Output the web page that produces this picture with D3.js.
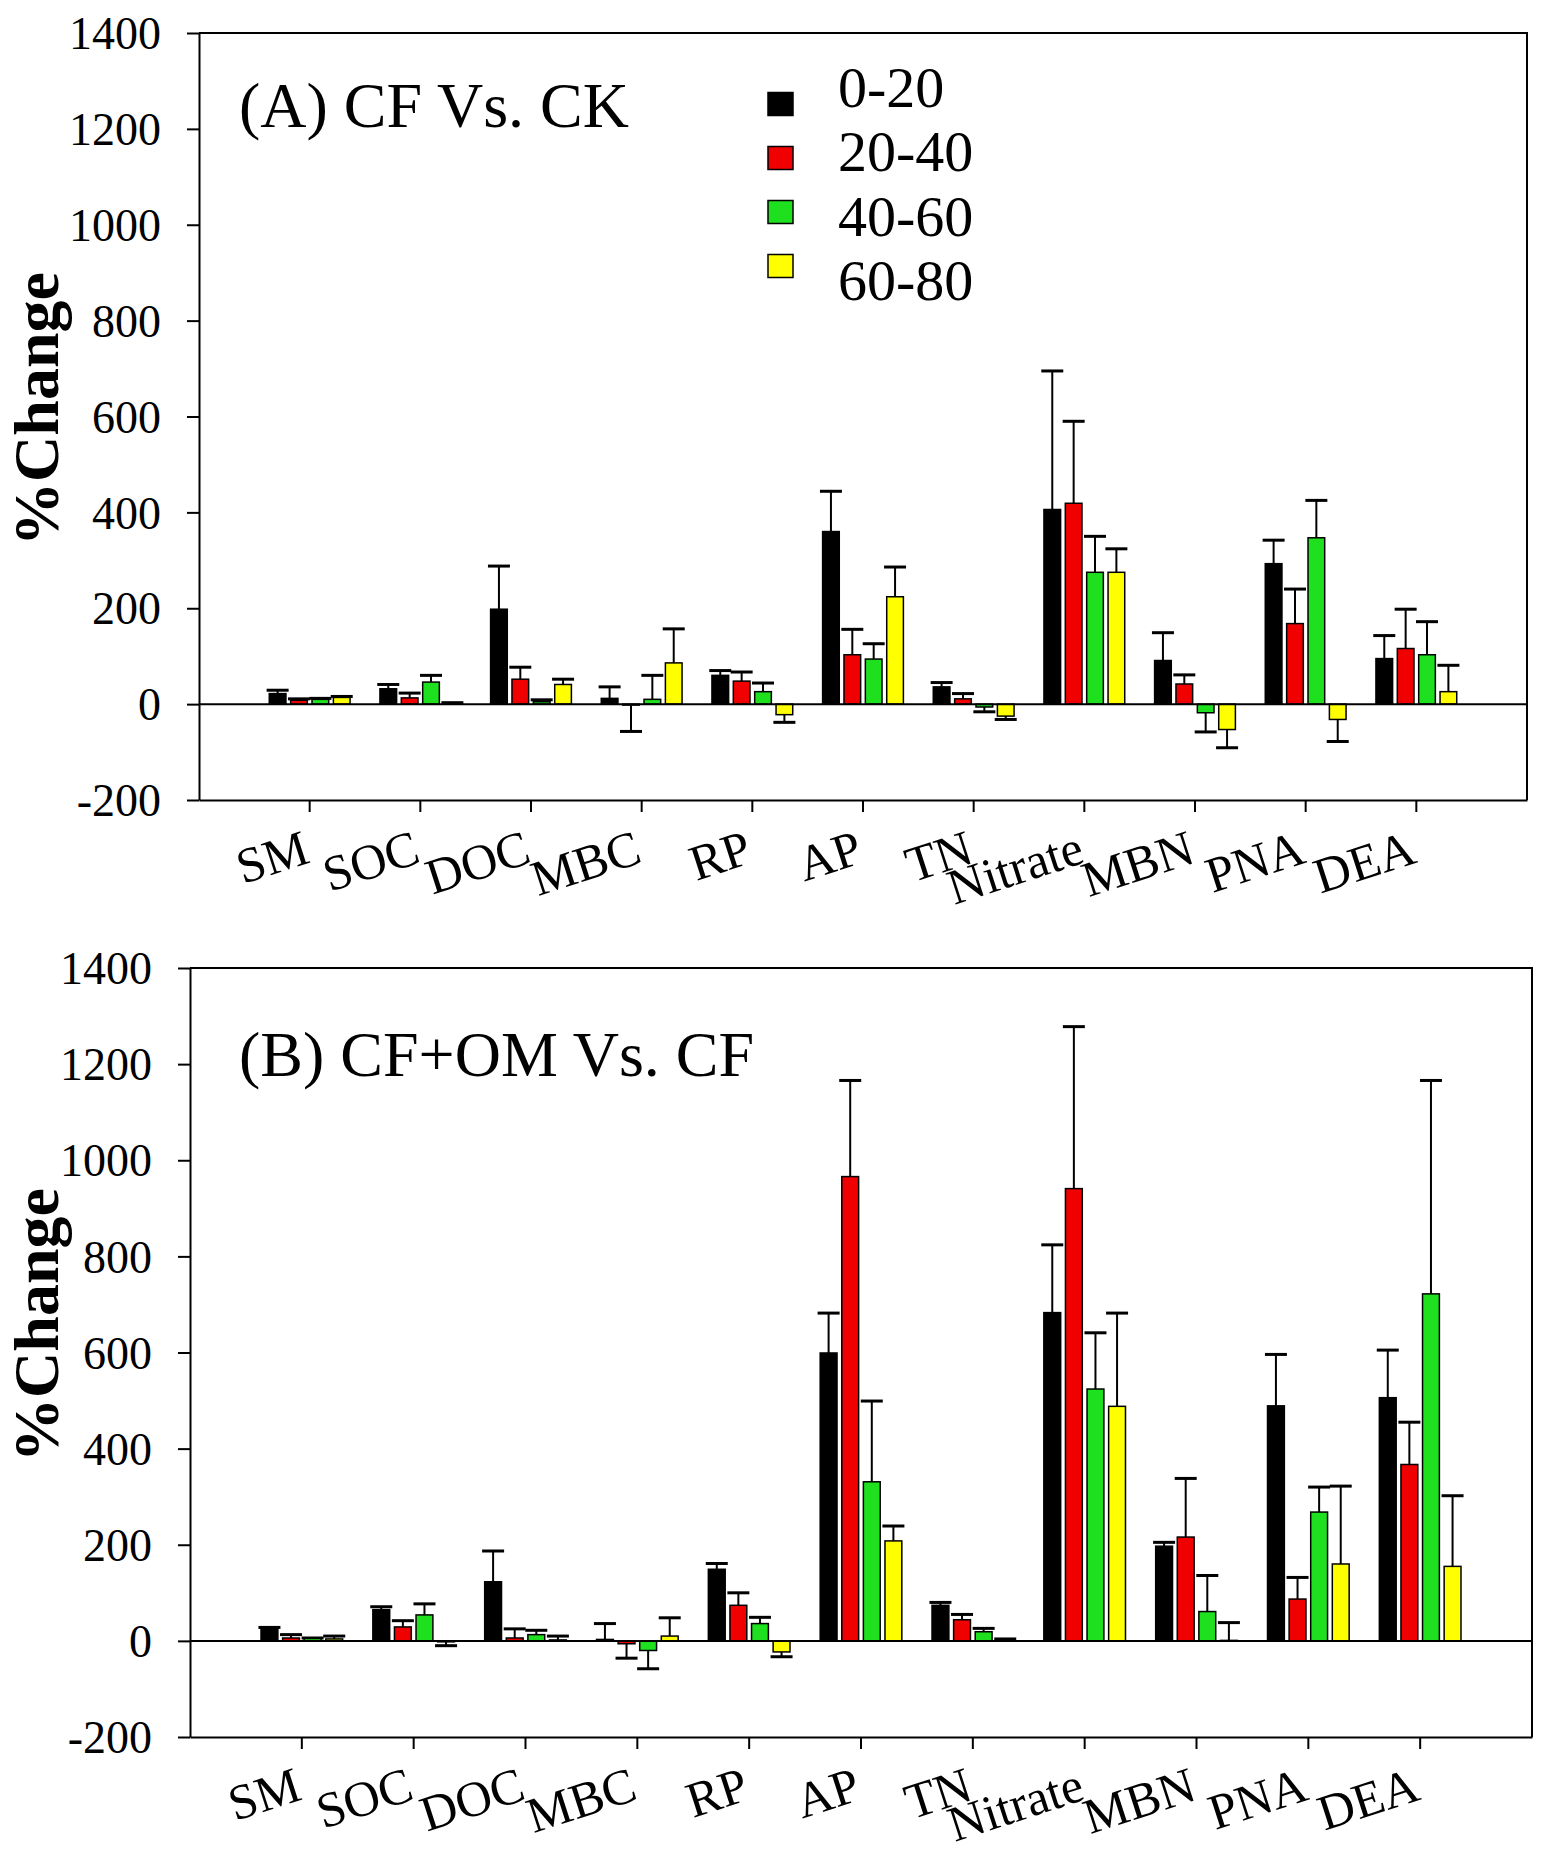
<!DOCTYPE html>
<html>
<head>
<meta charset="utf-8">
<script src="https://cdn.jsdelivr.net/npm/d3@7"></script>
<style>
  body { margin: 0; background: #fff; }
  text { font-family: "Times New Roman", "Liberation Serif", serif; fill: #000; }
</style>
</head>
<body>
<svg id="chart"></svg>
<script>
// soil properties on the x axis
const categories = ["SM", "SOC", "DOC", "MBC", "RP", "AP", "TN", "Nitrate", "MBN", "PNA", "DEA"];
// soil depths (cm)
const depths = ["0-20", "20-40", "40-60", "60-80"];
const depthColors = ["#000000", "#f00000", "#1fe01f", "#ffff00"];
const yTicks = [-200, 0, 200, 400, 600, 800, 1000, 1200, 1400];

// (A) CF Vs. CK : mean % change, one row per category, columns = depths
const valuesA = [
  [22, 8, 10, 14],
  [32, 13, 46, 2],
  [198, 52, 5, 41],
  [12, -2, 10, 86],
  [60, 48, 26, -22],
  [360, 103, 94, 224],
  [36, 11, -6, -25],
  [406, 419, 275, 275],
  [91, 42, -18, -53],
  [293, 168, 347, -32],
  [95, 116, 103, 26]
];
// standard error bars for (A)
const errorsA = [
  [7, 3, 2, 2],
  [9, 10, 14, 1],
  [90, 25, 4, 11],
  [24, 55, 50, 71],
  [10, 19, 18, 16],
  [84, 53, 32, 62],
  [9, 11, 10, 7],
  [289, 171, 75, 49],
  [58, 19, 40, 38],
  [49, 72, 78, 46],
  [48, 82, 69, 55]
];

// (B) CF+OM Vs. CF
const valuesB = [
  [26, 6, 5, 4],
  [65, 29, 54, -2],
  [123, 6, 13, 2],
  [3, -6, -20, 10],
  [149, 74, 36, -23],
  [599, 966, 331, 208],
  [74, 44, 19, 3],
  [683, 941, 524, 488],
  [197, 216, 61, 1],
  [489, 87, 268, 160],
  [506, 367, 722, 155]
];
const errorsB = [
  [2, 7, 1, 6],
  [6, 13, 23, 8],
  [64, 19, 9, 8],
  [33, 30, 38, 38],
  [12, 26, 13, 10],
  [83, 200, 168, 31],
  [6, 11, 7, 1],
  [141, 337, 117, 194],
  [8, 122, 75, 37],
  [107, 45, 52, 162],
  [99, 88, 444, 147]
];

const W = 1550, H = 1861;
const svg = d3.select("#chart").attr("width", W).attr("height", H);
svg.append("rect").attr("width", W).attr("height", H).attr("fill", "#fff");

function panel(opt) {
    const g = svg.append("g");
    const x = d3.scaleBand()
        .domain(categories)
        .range([opt.left, opt.right])
        .paddingInner(0)
        .paddingOuter(0.5);
    const y = d3.scaleLinear().domain([-200, 1400]).range([opt.bottom, opt.top]);
    const groupW = x.step() * 0.73;
    const xSub = d3.scaleBand()
        .domain(depths)
        .range([-groupW / 2, groupW / 2])
        .paddingInner(0.22);

    // flatten rows into bar records
    const bars = [];
    opt.values.forEach((row, i) => row.forEach((v, j) => {
        bars.push({cat: categories[i], depth: depths[j], j: j, v: v, e: opt.errors[i][j]});
    }));
    const cx = d => x(d.cat) + x.bandwidth() / 2 + xSub(d.depth);

    // error bars (drawn first so bars sit on top of the stem base)
    const eb = g.append("g").attr("stroke", "#000").attr("stroke-width", 2);
    const tip = d => d.v >= 0 ? d.v + d.e : d.v - d.e;
    eb.selectAll("line.stem").data(bars).join("line")
        .attr("class", "stem")
        .attr("x1", d => cx(d) + xSub.bandwidth() / 2)
        .attr("x2", d => cx(d) + xSub.bandwidth() / 2)
        .attr("y1", d => y(d.v))
        .attr("y2", d => y(tip(d)));
    eb.selectAll("line.cap").data(bars).join("line")
        .attr("class", "cap")
        .attr("stroke-width", 3)
        .attr("x1", d => cx(d) + xSub.bandwidth() / 2 - 11)
        .attr("x2", d => cx(d) + xSub.bandwidth() / 2 + 11)
        .attr("y1", d => y(tip(d)))
        .attr("y2", d => y(tip(d)));

    g.append("g").selectAll("rect").data(bars).join("rect")
        .attr("x", cx)
        .attr("width", xSub.bandwidth())
        .attr("y", d => y(Math.max(0, d.v)))
        .attr("height", d => Math.abs(y(d.v) - y(0)))
        .attr("fill", d => depthColors[d.j])
        .attr("stroke", "#000")
        .attr("stroke-width", 1.5);

    // zero line
    g.append("line")
        .attr("x1", opt.left).attr("x2", opt.right)
        .attr("y1", y(0)).attr("y2", y(0))
        .attr("stroke", "#000").attr("stroke-width", 2);

    // frame top and right
    g.append("path")
        .attr("d", `M${opt.left},${opt.top}H${opt.right}V${opt.bottom}`)
        .attr("fill", "none").attr("stroke", "#000").attr("stroke-width", 2);

    const yAxis = g.append("g")
        .attr("transform", `translate(${opt.left},0)`)
        .call(d3.axisLeft(y).tickValues(yTicks).tickSize(12).tickSizeOuter(0)
            .tickPadding(26).tickFormat(d => String(d)));
    yAxis.selectAll("path, line").attr("stroke", "#000").attr("stroke-width", 2);
    yAxis.selectAll("text")
        .attr("font-size", 46)
        .attr("font-family", null)
        .attr("dy", "0.34em");

    const xAxis = g.append("g")
        .attr("transform", `translate(0,${opt.bottom})`)
        .call(d3.axisBottom(x).tickSize(12).tickSizeOuter(0));
    xAxis.selectAll("path, line").attr("stroke", "#000").attr("stroke-width", 2);
    xAxis.selectAll("text")
        .attr("font-size", 50)
        .attr("font-family", null)
        .attr("text-anchor", "end")
        .attr("x", 0).attr("y", 0).attr("dy", null)
        .attr("transform", "translate(2,62) rotate(-18)");

    // y label
    g.append("text")
        .attr("transform", `translate(58,${opt.labelY}) rotate(-90)`)
        .attr("text-anchor", "middle")
        .attr("font-size", 64)
        .attr("font-weight", "bold")
        .text("%Change");

    g.append("text")
        .attr("x", 239).attr("y", opt.titleY)
        .attr("font-size", 64)
        .text(opt.title);

    return g;
}

panel({left: 199, right: 1527, top: 33, bottom: 800, values: valuesA, errors: errorsA,
       title: "(A) CF Vs. CK", titleY: 127, labelY: 409});
panel({left: 190, right: 1532, top: 968, bottom: 1737, values: valuesB, errors: errorsB,
       title: "(B) CF+OM Vs. CF", titleY: 1076, labelY: 1325});

// legend (panel A only)
const legend = svg.append("g");
const legY = d3.scalePoint().domain(depths).range([104, 266]);
const legTextY = d3.scalePoint().domain(depths).range([107, 300]);
legend.selectAll("rect").data(depths).join("rect")
    .attr("x", 768).attr("y", d => legY(d) - 11.5)
    .attr("width", 25).attr("height", 23)
    .attr("fill", (d, i) => depthColors[i])
    .attr("stroke", "#000").attr("stroke-width", 1.5);
legend.selectAll("text").data(depths).join("text")
    .attr("x", 838).attr("y", d => legTextY(d))
    .attr("font-size", 58)
    .text(d => d);
</script>
</body>
</html>
